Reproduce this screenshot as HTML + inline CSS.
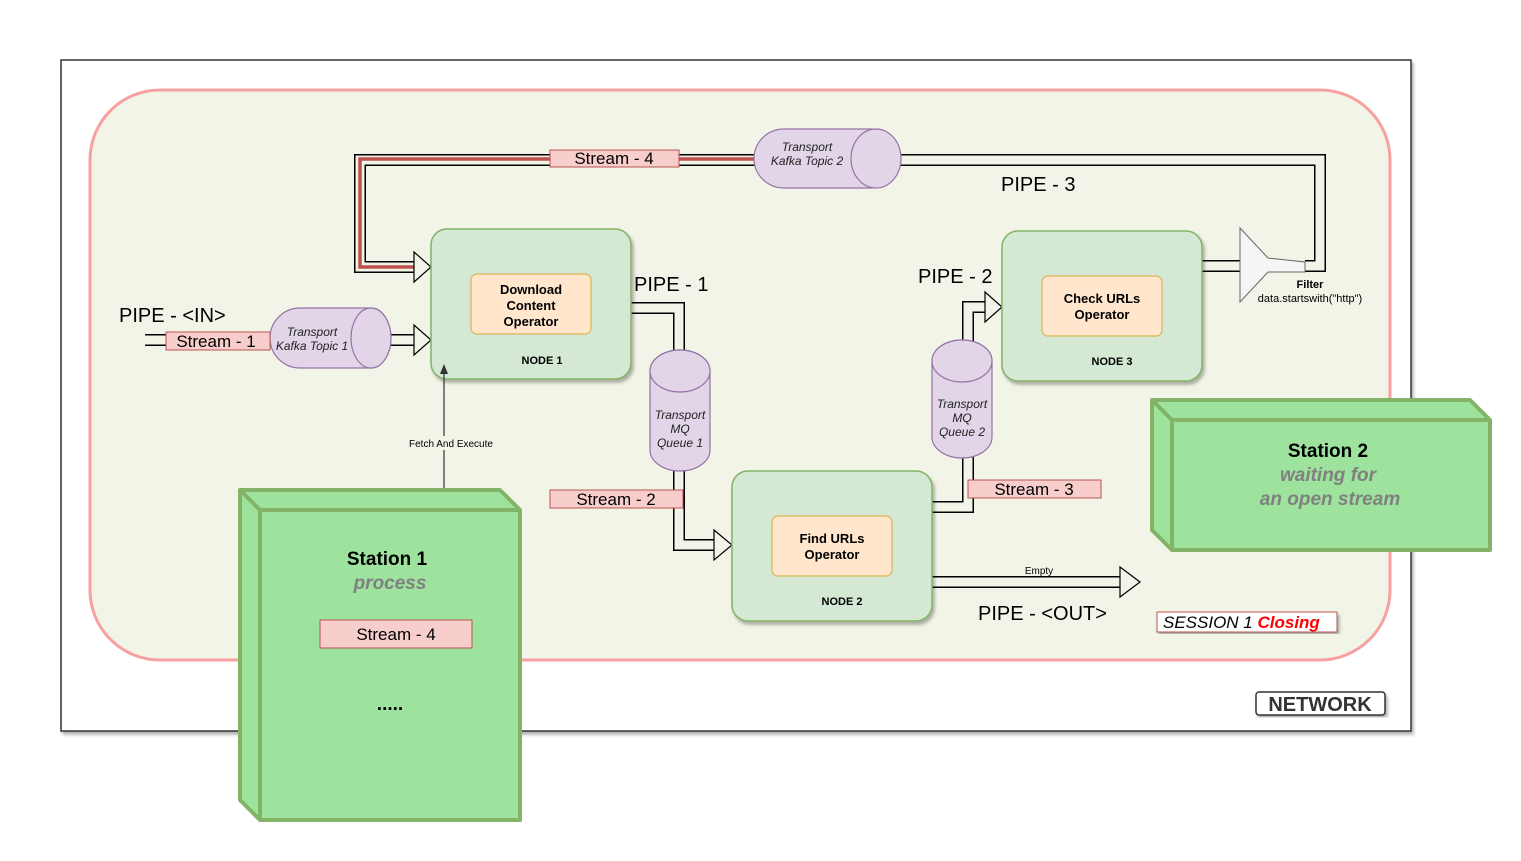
<!DOCTYPE html>
<html><head><style>body{margin:0;background:#fff}svg{display:block;font-family:"Liberation Sans",sans-serif}</style></head><body>
<svg width="1521" height="861" viewBox="0 0 1521 861" xmlns="http://www.w3.org/2000/svg">
<defs>
<filter id="sh"><feDropShadow dx="2" dy="3" stdDeviation="1.5" flood-opacity="0.3"/></filter>
</defs>
<rect x="61" y="60" width="1350" height="671" fill="#fff" stroke="#333" stroke-width="1.5" filter="url(#sh)"/>
<rect x="90" y="90" width="1300" height="570" rx="70" fill="#f2f4e8" stroke="#f8a0a0" stroke-width="3"/>
<g fill="none" stroke-linejoin="miter">
<path d="M1305,266 H1320 V160 H360 V267 H415" stroke="#000" stroke-width="12"/>
<path d="M1305,266 H1320 V160 H360 V267 H415" stroke="#f2f4e8" stroke-width="9"/>
<path d="M754,159 H360 V267 H425" stroke="#c0504d" stroke-width="3.5"/>
<path d="M145,340 H415" stroke="#000" stroke-width="12"/><path d="M145,340 H416" stroke="#f2f4e8" stroke-width="9"/>
<path d="M631,308 H679 V545 H715" stroke="#000" stroke-width="12"/><path d="M631,308 H679 V545 H716" stroke="#f2f4e8" stroke-width="9"/>
<path d="M932,507 H968 V307 H985" stroke="#000" stroke-width="12"/><path d="M932,507 H968 V307 H986" stroke="#f2f4e8" stroke-width="9"/>
<path d="M1202,266 H1245" stroke="#000" stroke-width="12"/><path d="M1202,266 H1246" stroke="#f2f4e8" stroke-width="9"/>
<path d="M932,582 H1120" stroke="#000" stroke-width="12"/><path d="M932,582 H1121" stroke="#f2f4e8" stroke-width="9"/>
</g>
<g fill="#f2f4e8" stroke="#000" stroke-width="1.2">
<path d="M414,252 L431,267 L414,282 Z"/>
<path d="M414,325 L431,340 L414,355 Z"/>
<path d="M714,530 L732,545 L714,560 Z"/>
<path d="M985,292 L1002,307 L985,322 Z"/>
<path d="M1120,567 L1140,582 L1120,597 Z"/>
</g>
<path d="M1240,228 L1268,258 L1305,262 L1305,272 L1268,272 L1240,302 Z" fill="#f5f5f5" stroke="#666"/>
<g filter="url(#sh)" stroke="#82b366" stroke-width="1.5" fill="#d5e8d4">
<rect x="431" y="229" width="200" height="150" rx="16"/>
<rect x="732" y="471" width="200" height="150" rx="16"/>
<rect x="1002" y="231" width="200" height="150" rx="16"/>
</g>
<g stroke="#d6b656" stroke-width="1.2" fill="#ffe6cc">
<rect x="471" y="274" width="120" height="60" rx="6"/>
<rect x="772" y="516" width="120" height="60" rx="6"/>
<rect x="1042" y="276" width="120" height="60" rx="6"/>
</g>
<g font-weight="bold" font-size="13" text-anchor="middle" fill="#000">
<text x="531" y="294">Download</text><text x="531" y="310">Content</text><text x="531" y="326">Operator</text>
<text x="832" y="543">Find URLs</text><text x="832" y="559">Operator</text>
<text x="1102" y="303">Check URLs</text><text x="1102" y="319">Operator</text>
<text x="542" y="364" font-size="11">NODE 1</text>
<text x="842" y="605" font-size="11">NODE 2</text>
<text x="1112" y="365" font-size="11">NODE 3</text>
<text x="1310" y="288" font-size="11">Filter</text>
</g>
<text x="1310" y="302" font-size="11" text-anchor="middle">data.startswith("http")</text>
<g fill="#e1d5e7" stroke="#9673a6" stroke-width="1.2">
<path d="M300,308 H371 A20,30 0 0 1 371,368 H300 A30,30 0 0 1 300,308 Z"/><ellipse cx="371" cy="338" rx="20" ry="30"/>
<path d="M784,129 H871 A30,29.5 0 0 1 871,188 H784 A30,29.5 0 0 1 784,129 Z"/><ellipse cx="876" cy="158.5" rx="25" ry="29.5"/>
<path d="M650,371 A30,21 0 0 1 710,371 V450 A30,21 0 0 1 650,450 Z"/><ellipse cx="680" cy="371" rx="30" ry="21"/>
<path d="M932,361 A30,21 0 0 1 992,361 V437 A30,21 0 0 1 932,437 Z"/><ellipse cx="962" cy="361" rx="30" ry="21"/>
</g>
<g font-style="italic" font-size="12" text-anchor="middle" fill="#222">
<text x="312" y="336">Transport</text><text x="312" y="350">Kafka Topic 1</text>
<text x="807" y="151">Transport</text><text x="807" y="165">Kafka Topic 2</text>
<text x="680" y="419">Transport</text><text x="680" y="433">MQ</text><text x="680" y="447">Queue 1</text>
<text x="962" y="408">Transport</text><text x="962" y="422">MQ</text><text x="962" y="436">Queue 2</text>
</g>
<g fill="#f8cecc" stroke="#b85450" stroke-width="1">
<rect x="166" y="332" width="104" height="18"/>
<rect x="550" y="150" width="129" height="17"/>
<rect x="550" y="490" width="133" height="18"/>
<rect x="968" y="480" width="133" height="18"/>
<rect x="1157" y="612" width="180" height="20" fill="#fff" filter="url(#sh)"/>
</g>
<g font-size="17" fill="#000" text-anchor="middle">
<text x="216" y="347">Stream -  1</text>
<text x="614" y="164">Stream -  4</text>
<text x="616" y="505">Stream -  2</text>
<text x="1034" y="495">Stream -  3</text>
</g>
<g font-size="20" fill="#000">
<text x="119" y="322">PIPE - &lt;IN&gt;</text>
<text x="634" y="291">PIPE - 1</text>
<text x="918" y="283">PIPE - 2</text>
<text x="1001" y="191">PIPE - 3</text>
<text x="978" y="620">PIPE - &lt;OUT&gt;</text>
</g>
<text x="1039" y="574" font-size="10" text-anchor="middle">Empty</text>
<text x="1163" y="628" font-size="17" font-style="italic" fill="#000">SESSION 1 <tspan fill="#f00" font-weight="bold">Closing</tspan></text>
<path d="M444,490 V372" stroke="#333" stroke-width="1.2"/><path d="M440,374 L444,364 L448,374 Z" fill="#333"/>
<rect x="400" y="436" width="100" height="14" fill="#f2f4e8"/>
<text x="451" y="447" font-size="10" text-anchor="middle">Fetch And Execute</text>
<g fill="#9de39d" stroke="#82b366" stroke-width="4" stroke-linejoin="round">
<path d="M240,490 H500 L520,510 V820 H260 L240,800 Z"/>
<path d="M240,490 L260,510 H520" fill="none"/><path d="M260,510 V820" fill="none"/>
<path d="M1152,400 H1470 L1490,420 V550 H1172 L1152,530 Z"/>
<path d="M1152,400 L1172,420 H1490" fill="none"/><path d="M1172,420 V550" fill="none"/>
</g>
<rect x="320" y="620" width="152" height="28" fill="#f8cecc" stroke="#b85450"/>
<text x="396" y="640" font-size="17" text-anchor="middle">Stream -  4</text>
<text x="387" y="565" font-size="19" font-weight="bold" text-anchor="middle">Station 1</text>
<text x="390" y="589" font-size="19" font-weight="bold" font-style="italic" fill="#808080" text-anchor="middle">process</text>
<text x="390" y="710" font-size="19" font-weight="bold" text-anchor="middle">.....</text>
<text x="1328" y="457" font-size="19" font-weight="bold" text-anchor="middle">Station 2</text>
<text x="1328" y="481" font-size="19" font-weight="bold" font-style="italic" fill="#808080" text-anchor="middle">waiting for</text>
<text x="1330" y="505" font-size="19" font-weight="bold" font-style="italic" fill="#808080" text-anchor="middle">an open stream</text>
<rect x="1256" y="692" width="129" height="23" rx="3" fill="#fff" stroke="#333" stroke-width="1.5" filter="url(#sh)"/>
<text x="1320" y="711" font-size="20" font-weight="bold" fill="#333" text-anchor="middle">NETWORK</text>
</svg>
</body></html>
